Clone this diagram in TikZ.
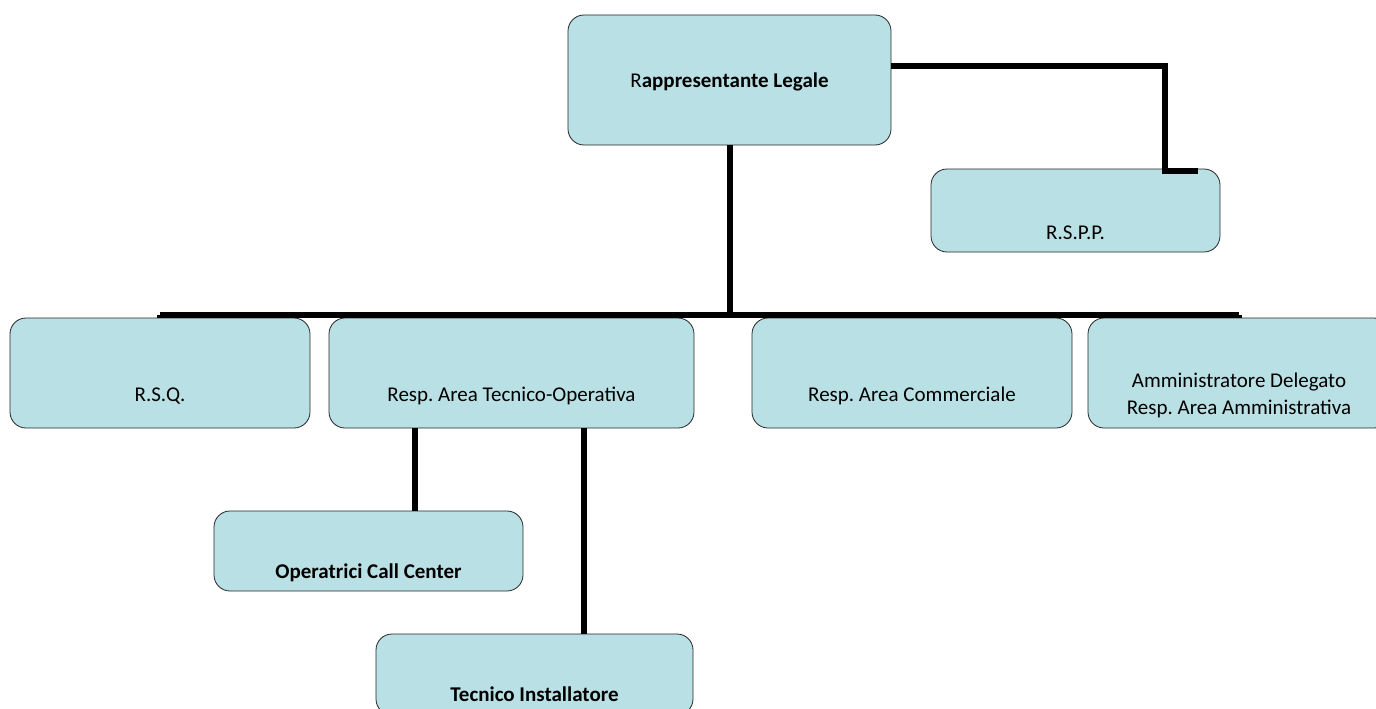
\documentclass[tikz,border=0pt]{standalone}
\usepackage{fontspec}
\setmainfont{Carlito}
\usetikzlibrary{positioning}
\definecolor{boxfill}{RGB}{185,224,228}
\frenchspacing
\begin{document}
\begin{tikzpicture}[x=1pt,y=-1pt,
    box/.style={draw=black!85,fill=boxfill,rounded corners=16pt,line width=0.8pt,inner sep=0pt,font=\fontsize{21}{27}\selectfont,text depth=0pt},
    link/.style={line width=6pt,line join=miter}]
  \useasboundingbox (0,0) rectangle (1376,709);
  \clip (0,0) rectangle (1376,709);
  \node[box,minimum width=323pt,minimum height=130pt,text height=16pt] (rl) at (729.5,80) {R\textbf{appresentante Legale}};
  \node[box,minimum width=289pt,minimum height=83pt,text height=57pt] (rspp) at (1075.5,210.5) {R.S.P.P.};
  \node[box,minimum width=300pt,minimum height=110pt,text height=56pt] (rsq) at (160,373) {R.S.Q.};
  \node[box,minimum width=365pt,minimum height=110pt,text height=56pt] (rato) at (511.5,373) {Resp. Area Tecnico-Operativa};
  \node[box,minimum width=320pt,minimum height=110pt,text height=56pt] (rac) at (912,373) {Resp. Area Commerciale};
  \node[box,minimum width=302pt,minimum height=110pt,text height=82pt,align=center] (ad) at (1239,373) {Amministratore Delegato\\Resp. Area Amministrativa};
  \node[box,minimum width=309pt,minimum height=80pt,text height=54pt] (occ) at (368.5,551) {\textbf{Operatrici Call Center}};
  \node[box,minimum width=317pt,minimum height=81pt,text height=53pt] (ti) at (534.5,674.5) {\textbf{Tecnico Installatore}};

  \coordinate (bus) at (729.5,315);
  \coordinate (bend) at (1165,171);
  \draw[link] (rl.south) -- (bus);
  \draw[link] (rsq.north |- bus) -- (ad.north |- bus);
  \foreach \n in {rsq,rato,rac,ad}
    \draw[link] (\n.north |- bus) -- (\n.north);
  \draw[link] ([yshift=14pt]rl.east) -| (bend) -- ([xshift=122.5pt]rspp.north |- bend);
  \draw[link] ([xshift=-96.5pt]rato.south) -- ([xshift=-96.5pt]rato.south |- occ.north);
  \draw[link] ([xshift=72.5pt]rato.south) -- ([xshift=72.5pt]rato.south |- ti.north);
\end{tikzpicture}
\end{document}
